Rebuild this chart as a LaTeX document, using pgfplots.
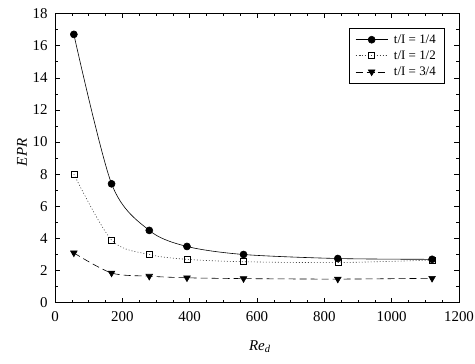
\documentclass[border=0pt]{standalone}
\usepackage{fontspec}
\setmainfont{Liberation Serif}
\usepackage{pgfplots}
\pgfplotsset{compat=1.18}

\pgfplotstableread{
re    a     b     c
56    16.7  8.0   3.1
168   7.4   3.9   1.85
280   4.5   3.0   1.65
392   3.5   2.7   1.55
560   3.0   2.55  1.5
840   2.75  2.5   1.47
1120  2.7   2.65  1.52
}\eprdata

\begin{document}
\begin{tikzpicture}
\begin{axis}[name=ax,
  scale only axis, width=404bp, height=289.2bp,
  xmin=0, xmax=1200, ymin=0, ymax=18,
  xtick={0,200,...,1200}, ytick={0,2,...,18},
  minor x tick num=3, minor y tick num=1,
  tick align=inside, major tick length=5bp, minor tick length=3bp,
  tick style={black, line width=0.5pt},
  axis line style={line width=0.6pt},
  /pgf/number format/assume math mode=true,
  /pgf/number format/1000 sep={},
  ticklabel style={font=\fontsize{15}{18}\selectfont},
  xticklabel style={yshift=-5bp},
  yticklabel style={xshift=-4bp},
  scaled ticks=false,
  xlabel={\textit{Re\textsubscript{d}}},
  ylabel={\textit{EPR}},
  label style={font=\fontsize{15}{18}\selectfont},
  xlabel style={at={(axis description cs:0.507,-0.153)}, anchor=center},
  ylabel style={at={(axis description cs:-0.082,0.52)}, anchor=center},
  legend style={at={(0.963,0.95)}, anchor=north east, draw=black, line width=0.5pt,
    font=\fontsize{13}{15}\selectfont, row sep=3bp, inner xsep=6bp, inner ysep=5bp,
    nodes={inner xsep=2bp, inner ysep=1.5bp},
    /tikz/every odd column/.style={column sep=4bp}},
  legend cell align=left,
  legend image code/.code={\draw[mark repeat=2,mark phase=2] plot coordinates {(0bp,0bp) (16bp,0bp) (32bp,0bp)};},
]
\addplot[black, line width=0.6pt, smooth, tension=0.5, mark=*, mark size=3.5bp, mark options={solid}]
  table[x=re, y=a] {\eprdata};
\addlegendentry{t/I = 1/4}
\addplot[black!75, line width=0.6pt, dash pattern=on 1bp off 2bp, smooth, tension=0.5, mark=square, mark size=3bp, mark options={solid, black}]
  table[x=re, y=b] {\eprdata};
\addlegendentry{t/I = 1/2}
\addplot[black, line width=0.6pt, dash pattern=on 7bp off 4bp, smooth, tension=0.5, mark=triangle*, mark size=3.8bp, mark options={solid, rotate=180}]
  table[x=re, y=c] {\eprdata};
\addlegendentry{t/I = 3/4}
\end{axis}
\pgfresetboundingbox
\path ([xshift=-55bp,yshift=-61.3bp]ax.south west) rectangle ([xshift=16bp,yshift=13.5bp]ax.north east);
\end{tikzpicture}
\end{document}
